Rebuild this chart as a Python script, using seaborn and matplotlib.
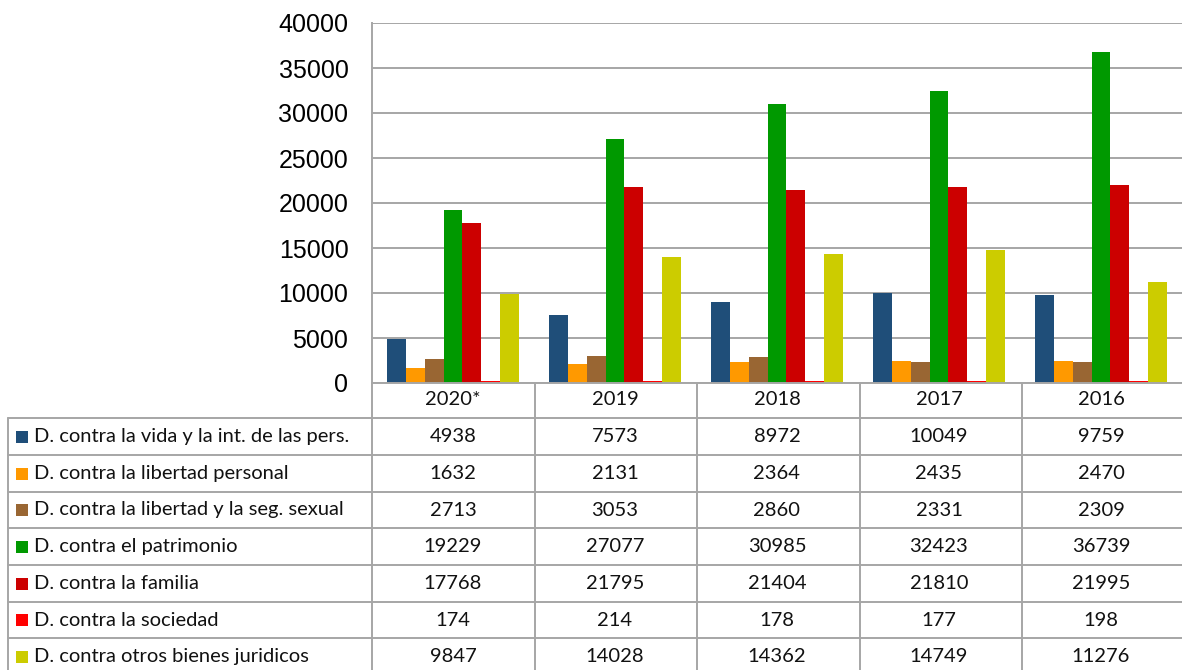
import matplotlib
matplotlib.use("Agg")
import matplotlib.pyplot as plt
import matplotlib.transforms as mtransforms
from matplotlib.lines import Line2D
from matplotlib.patches import Rectangle
import seaborn as sns
import pandas as pd

# ---------------- data ----------------
years = ["2020*", "2019", "2018", "2017", "2016"]
categories = [
    "D. contra la vida y la int. de las pers.",
    "D. contra la libertad personal",
    "D. contra la libertad y la seg. sexual",
    "D. contra el patrimonio",
    "D. contra la familia",
    "D. contra la sociedad",
    "D. contra otros bienes juridicos",
]
vida = [4938, 7573, 8972, 10049, 9759]
libertad = [1632, 2131, 2364, 2435, 2470]
sexual = [2713, 3053, 2860, 2331, 2309]
patrimonio = [19229, 27077, 30985, 32423, 36739]
familia = [17768, 21795, 21404, 21810, 21995]
sociedad = [174, 214, 178, 177, 198]
otros = [9847, 14028, 14362, 14749, 11276]
series = [vida, libertad, sexual, patrimonio, familia, sociedad, otros]
colors = ["#1F4E79", "#FF9900", "#996633", "#009900", "#CC0000", "#FF0000", "#CCCC00"]
yticks = [0, 5000, 10000, 15000, 20000, 25000, 30000, 35000, 40000]

rows = []
for cat, vals in zip(categories, series):
    for yr, v in zip(years, vals):
        rows.append({"year": yr, "cat": cat, "value": v})
df = pd.DataFrame(rows)

# ---------------- figure ----------------
W, H = 1182, 670
sns.set_theme(style="white")
plt.rcParams["font.family"] = ["Liberation Sans", "DejaVu Sans"]
fig = plt.figure(figsize=(W / 100, H / 100), dpi=100)

def fx(x):
    return x / W

def fy(y):
    return 1 - y / H

ax_l, ax_r, ax_t, ax_b = 372, 1182, 23, 383
ax = fig.add_axes([fx(ax_l), fy(ax_b), (ax_r - ax_l) / W, (ax_b - ax_t) / H])

sns.barplot(data=df, x="year", y="value", hue="cat", hue_order=categories,
            order=years, palette=colors, saturation=1, width=0.82,
            linewidth=0, edgecolor="none", legend=False, ax=ax, zorder=3)

grid_c = "#A6A6A6"
tfont = ["Lato", "DejaVu Sans"]
tsize = 14.5
ax.set_ylim(0, 40000)
ax.set_xlim(-0.5, len(years) - 0.5)
ax.set_yticks(yticks)
ax.set_yticklabels([str(t) for t in yticks], fontsize=18, color="#000000",
                   family=["Liberation Sans", "DejaVu Sans"])
ax.tick_params(axis="y", length=0, pad=17)
ax.yaxis.grid(True, color=grid_c, linewidth=1.4, zorder=0)
ax.set_axisbelow(True)
ax.set_xlabel("")
ax.set_ylabel("")
ax.set_xticks(range(len(years)))
ax.set_xticklabels(years, fontsize=tsize, family=tfont, color="#111111")
ax.tick_params(axis="x", length=0, pad=6)
for s in ["top", "right", "bottom"]:
    ax.spines[s].set_visible(False)
ax.spines["left"].set_color(grid_c)
ax.spines["left"].set_linewidth(1.4)

# ---------------- data table ----------------
tbl_left = 8
row_edges = [383, 418, 455, 492, 528, 565, 602, 638, 675]
col_edges = [372, 535, 697, 860, 1022, 1182]

def hline(x0, x1, y):
    fig.add_artist(Line2D([fx(x0), fx(x1)], [fy(y), fy(y)], color=grid_c, linewidth=1.4))

def vline(x, y0, y1):
    fig.add_artist(Line2D([fx(x), fx(x)], [fy(y0), fy(y1)], color=grid_c, linewidth=1.4))

hline(ax_l, W, row_edges[0])
for y in row_edges[1:-1]:
    hline(tbl_left, W, y)
vline(tbl_left, row_edges[1], H + 5)
for x in col_edges[:-1]:
    vline(x, row_edges[0], H + 5)

blend = mtransforms.blended_transform_factory(ax.transData, fig.transFigure)
for i, (cat, vals, c) in enumerate(zip(categories, series, colors)):
    yc = (row_edges[i + 1] + row_edges[i + 2]) / 2
    fig.add_artist(Rectangle((fx(16), fy(yc + 6)), 12 / W, 12 / H,
                             transform=fig.transFigure, color=c, linewidth=0))
    fig.text(fx(34), fy(yc), cat, fontsize=tsize, family=tfont, color="#111111",
             ha="left", va="center")
    for j, v in enumerate(vals):
        fig.text(j, fy(yc), str(v), transform=blend, fontsize=tsize, family=tfont,
                 color="#111111", ha="center", va="center")

fig.savefig("out.png", dpi=100)
